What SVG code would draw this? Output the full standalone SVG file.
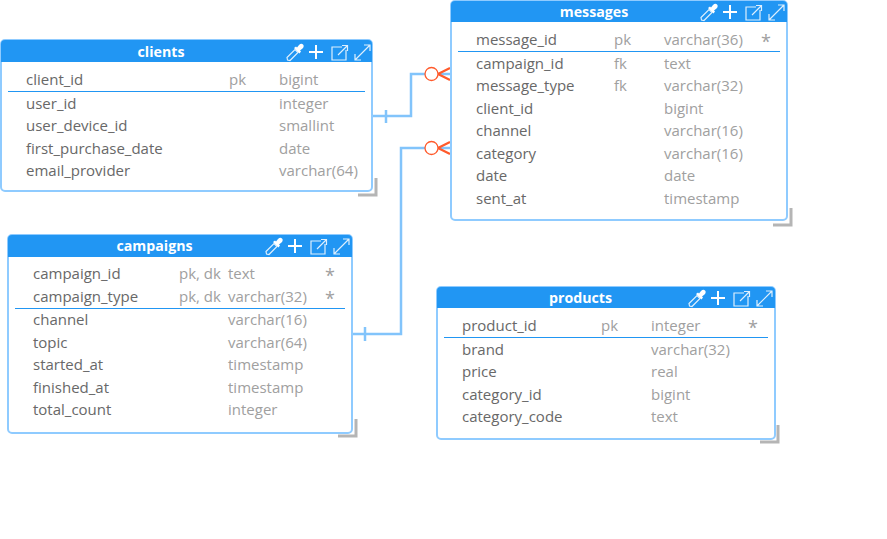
<svg xmlns="http://www.w3.org/2000/svg" width="887" height="539" viewBox="0 0 887 539">
<style>
text{font-family:"Open Sans","Noto Sans",sans-serif;font-size:15px;fill:#a0a0a0}
.n{fill:#686868}
.t{font-weight:700;fill:#fff;text-anchor:middle;font-size:14.200px}
.s{font-size:18px}
.box{fill:#fff;stroke:#8fcbff;stroke-width:2}
.hd{fill:#2196f3}
.rule{stroke:#2196f3;stroke-width:1.2}
.grip{fill:none;stroke:#b5b5b5;stroke-width:3}
.ic{fill:none;stroke:#fff;stroke-width:1.2;opacity:.85}
.plus{stroke:#fff;stroke-width:2;fill:none}
.con{fill:none;stroke:#82c4fb;stroke-width:2.5}
.cr{fill:none;stroke:#ff5a2b;stroke-width:2.200}
.ci{fill:#fff;stroke:#ff5a2b;stroke-width:1.3}
</style>
<defs>
<g id="icons">
<path class="ic" d="M-67.500 15l-.5 -2.500 8 -8 3 3 -8 8z"/>
<path d="M-61 3l5.500 5.500 1.500 -2 -1 -1 2.500 -2c1.500 -1.500 1.500 -3 .5 -4s-2.500 -1 -4 .5l-2 2.500 -1 -1z" fill="#fff"/>
<path class="plus" d="M-39 0v14M-46 7h14"/>
<path class="ic" d="M-13 2h-10v13h14v-10M-17 10l9 -9M-13 .5h5.500v5.500"/>
<path class="ic" d="M0 15l15 -15M9 0h6v6M0 9v6h6"/>
</g>
</defs>
<g id="connectors">
<path class="con" d="M372 116H411V74H425"/>
<path class="con" d="M386 110V123"/>
<path class="con" d="M352 334H401V148H425"/>
<path class="con" d="M365 327V341"/>
<path class="con" d="M438 74H451M438 148H451"/>
<path class="cr" d="M438 74L450 68M438 74L450 80M438 148L450 142M438 148L450 154"/>
<circle class="ci" cx="431.500" cy="74" r="6.500"/>
<circle class="ci" cx="431.500" cy="148" r="6.500"/>
</g>
<g id="clients">
<path class="grip" d="M376 178V195H358"/>
<rect class="box" x="1" y="40" width="371" height="151" rx="4"/>
<path class="hd" d="M1 62V44a4 4 0 0 1 4-4H368a4 4 0 0 1 4 4V62Z"/>
<text class="t" x="161" y="57">clients</text>
<use href="#icons" x="355" y="45"/>
<line class="rule" x1="8" x2="365" y1="91.500" y2="91.500"/>
<text class="n" x="26" y="85">client_id</text><text x="229" y="85">pk</text><text x="279" y="85">bigint</text>
<text class="n" x="26" y="109">user_id</text><text x="279" y="109">integer</text>
<text class="n" x="26" y="131">user_device_id</text><text x="279" y="131">smallint</text>
<text class="n" x="26" y="154">first_purchase_date</text><text x="279" y="154">date</text>
<text class="n" x="26" y="176">email_provider</text><text x="279" y="176">varchar(64)</text>
</g>
<g id="messages">
<path class="grip" d="M791 208V225H773"/>
<rect class="box" x="451" y="1" width="336" height="219" rx="4"/>
<path class="hd" d="M451 22V5a4 4 0 0 1 4-4H783a4 4 0 0 1 4 4V22Z"/>
<text class="t" x="594" y="17">messages</text>
<use href="#icons" x="769" y="5"/>
<line class="rule" x1="458" x2="780" y1="51.500" y2="51.500"/>
<text class="n" x="476" y="45">message_id</text><text x="614" y="45">pk</text><text x="664" y="45">varchar(36)</text><text class="s" x="761" y="48">*</text>
<text class="n" x="476" y="69">campaign_id</text><text x="614" y="69">fk</text><text x="664" y="69">text</text>
<text class="n" x="476" y="91">message_type</text><text x="614" y="91">fk</text><text x="664" y="91">varchar(32)</text>
<text class="n" x="476" y="114">client_id</text><text x="664" y="114">bigint</text>
<text class="n" x="476" y="136">channel</text><text x="664" y="136">varchar(16)</text>
<text class="n" x="476" y="159">category</text><text x="664" y="159">varchar(16)</text>
<text class="n" x="476" y="181">date</text><text x="664" y="181">date</text>
<text class="n" x="476" y="204">sent_at</text><text x="664" y="204">timestamp</text>
</g>
<g id="campaigns">
<path class="grip" d="M356 419V436H338"/>
<rect class="box" x="8" y="235" width="344" height="198" rx="4"/>
<path class="hd" d="M8 257V239a4 4 0 0 1 4-4H348a4 4 0 0 1 4 4V257Z"/>
<text class="t" x="154.500" y="251">campaigns</text>
<use href="#icons" x="334" y="239"/>
<line class="rule" x1="15" x2="345" y1="308.500" y2="308.500"/>
<text class="n" x="33" y="279">campaign_id</text><text x="179" y="279">pk, dk</text><text x="228" y="279">text</text><text class="s" x="325" y="282">*</text>
<text class="n" x="33" y="302">campaign_type</text><text x="179" y="302">pk, dk</text><text x="228" y="302">varchar(32)</text><text class="s" x="325" y="305">*</text>
<text class="n" x="33" y="325">channel</text><text x="228" y="325">varchar(16)</text>
<text class="n" x="33" y="348">topic</text><text x="228" y="348">varchar(64)</text>
<text class="n" x="33" y="370">started_at</text><text x="228" y="370">timestamp</text>
<text class="n" x="33" y="393">finished_at</text><text x="228" y="393">timestamp</text>
<text class="n" x="33" y="415">total_count</text><text x="228" y="415">integer</text>
</g>
<g id="products">
<path class="grip" d="M778 425V442H760"/>
<rect class="box" x="437" y="287" width="338" height="152" rx="4"/>
<path class="hd" d="M437 308V291a4 4 0 0 1 4-4H771a4 4 0 0 1 4 4V308Z"/>
<text class="t" x="580.500" y="303">products</text>
<use href="#icons" x="757" y="291"/>
<line class="rule" x1="444" x2="768" y1="337.500" y2="337.500"/>
<text class="n" x="462" y="331">product_id</text><text x="601" y="331">pk</text><text x="651" y="331">integer</text><text class="s" x="748" y="334">*</text>
<text class="n" x="462" y="355">brand</text><text x="651" y="355">varchar(32)</text>
<text class="n" x="462" y="377">price</text><text x="651" y="377">real</text>
<text class="n" x="462" y="400">category_id</text><text x="651" y="400">bigint</text>
<text class="n" x="462" y="422">category_code</text><text x="651" y="422">text</text>
</g>
</svg>
